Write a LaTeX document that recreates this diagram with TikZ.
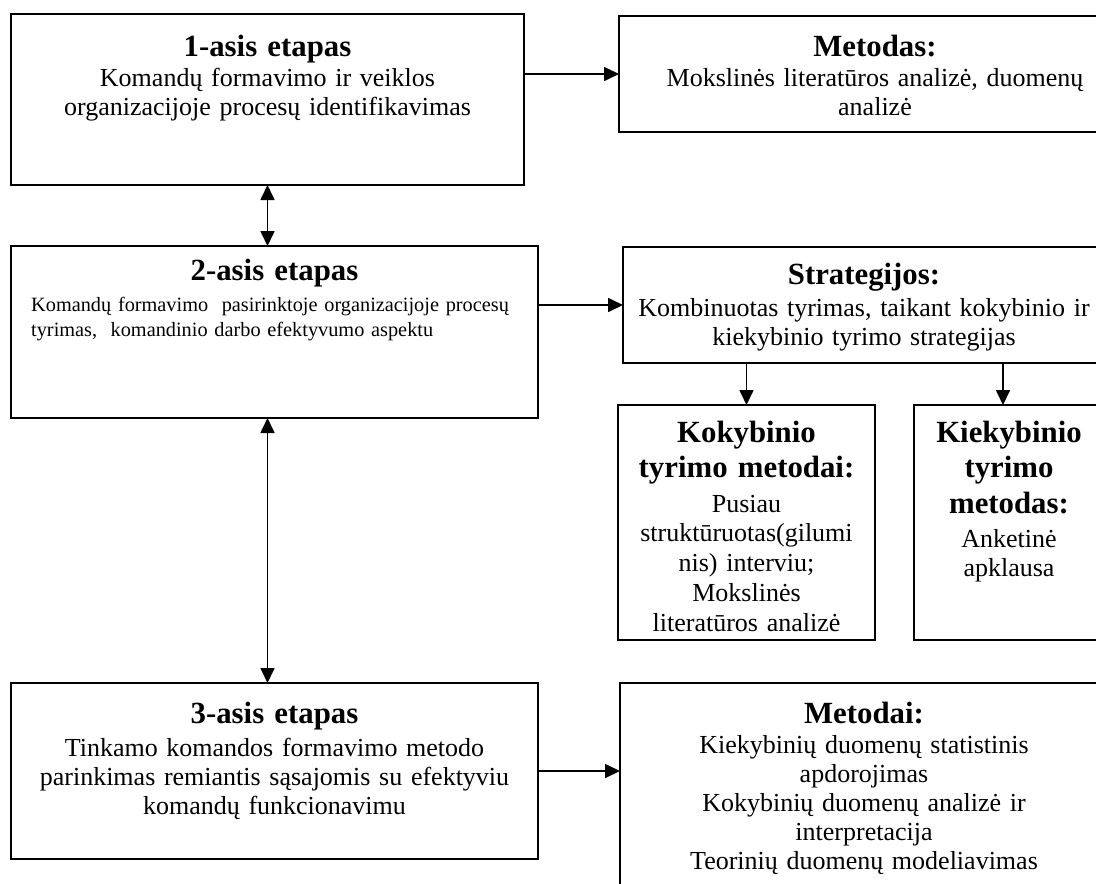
\documentclass[tikz,border=0pt]{standalone}
\usepackage{fontspec}
\setmainfont{Liberation Serif}
\usetikzlibrary{arrows.meta}
\tikzset{
  box/.style={draw, line width=2.2pt, rectangle, inner sep=0pt, outer sep=0pt},
  ttl/.style={font=\fontsize{30.8}{35}\selectfont\bfseries, anchor=base, inner sep=0pt, text width=500pt, align=center},
  bdy/.style={font=\fontsize{26}{29}\selectfont, anchor=base, inner sep=0pt, text width=540pt, align=center},
  arr/.style={line width=1.7pt, -{Triangle[length=15pt,width=14pt]}},
  darr/.style={line width=1.7pt, {Triangle[length=15pt,width=14pt]}-{Triangle[length=15pt,width=14pt]}}
}
\begin{document}
\begin{tikzpicture}[x=1pt,y=-1pt]
\path[use as bounding box] (0,0) rectangle (1096,884);
\clip (0,0) rectangle (1096,884);
\fill[white] (0,0) rectangle (1096,884);
% boxes
\node[box, minimum width=513pt, minimum height=171pt] (b1) at (267.5,99.5) {};
\node[box, minimum width=512pt, minimum height=116pt] (m1) at (875,74) {};
\node[box, minimum width=527pt, minimum height=172pt] (b2) at (274.5,332) {};
\node[box, minimum width=482pt, minimum height=116pt] (s2) at (864,305) {};
\node[box, minimum width=257pt, minimum height=235pt] (k1) at (746.5,522.5) {};
\node[box, minimum width=190pt, minimum height=235pt] (k2) at (1009,522.5) {};
\node[box, minimum width=527pt, minimum height=176pt] (b3) at (274.5,771) {};
\node[box, minimum width=488pt, minimum height=217pt] (m3) at (864,791.5) {};
% texts
\node[ttl] (b1t) at (267.5,56) {1-asis etapas};
\node[bdy] (b1b) at (267.5,86) {Komandų formavimo ir veiklos\\organizacijoje procesų identifikavimas};
\node[ttl] (m1t) at (875,56) {Metodas:};
\node[bdy] (m1b) at (875,86) {Mokslinės literatūros analizė, duomenų\\analizė};
\node[ttl] (b2t) at (274.5,280) {2-asis etapas};
\node[font=\fontsize{20.3}{25}\selectfont, anchor=base west, inner sep=0pt, text width=500pt, align=left] (b2b) at (31,311) {Komandų formavimo\ \ pasirinktoje organizacijoje procesų\\tyrimas,\ \ komandinio darbo efektyvumo aspektu};
\node[ttl] (s2t) at (864,284) {Strategijos:};
\node[bdy] (s2b) at (864,316) {Kombinuotas tyrimas, taikant kokybinio ir\\kiekybinio tyrimo strategijas};
\node[ttl, text width=250pt] (k1t) at (746.5,442) {Kokybinio\\tyrimo metodai:};
\node[bdy, text width=250pt, font=\fontsize{26}{29.75}\selectfont] (k1b) at (746.5,512) {Pusiau\\struktūruotas(gilumi\\nis) interviu;\\Mokslinės\\literatūros analizė};
\node[ttl, text width=190pt, font=\fontsize{30.8}{35.5}\selectfont\bfseries] (k2t) at (1009,442) {Kiekybinio\\tyrimo\\metodas:};
\node[bdy, text width=190pt] (k2b) at (1009,547) {Anketinė\\apklausa};
\node[ttl] (b3t) at (274.5,723) {3-asis etapas};
\node[bdy] (b3b) at (274.5,756) {Tinkamo komandos formavimo metodo\\parinkimas remiantis sąsajomis su efektyviu\\komandų funkcionavimu};
\node[ttl] (m3t) at (864,723) {Metodai:};
\node[bdy] (m3b) at (864,753) {Kiekybinių duomenų statistinis\\apdorojimas\\Kokybinių duomenų analizė ir\\interpretacija\\Teorinių duomenų modeliavimas};
% connectors
\draw[arr] (m1.west -| b1.east) -- (m1.west);
\draw[arr] (s2.west -| b2.east) -- (s2.west);
\draw[arr] (b3.east) -- (b3.east -| m3.west);
\draw[arr] (k1.north |- s2.south) -- (k1.north);
\draw[arr] ([xshift=-6pt]k2.north |- s2.south) -- ([xshift=-6pt]k2.north);
\draw[darr] (b1.south) -- (b1.south |- b2.north);
\draw[darr] (b1.south |- b2.south) -- (b1.south |- b3.north);
\end{tikzpicture}
\end{document}
